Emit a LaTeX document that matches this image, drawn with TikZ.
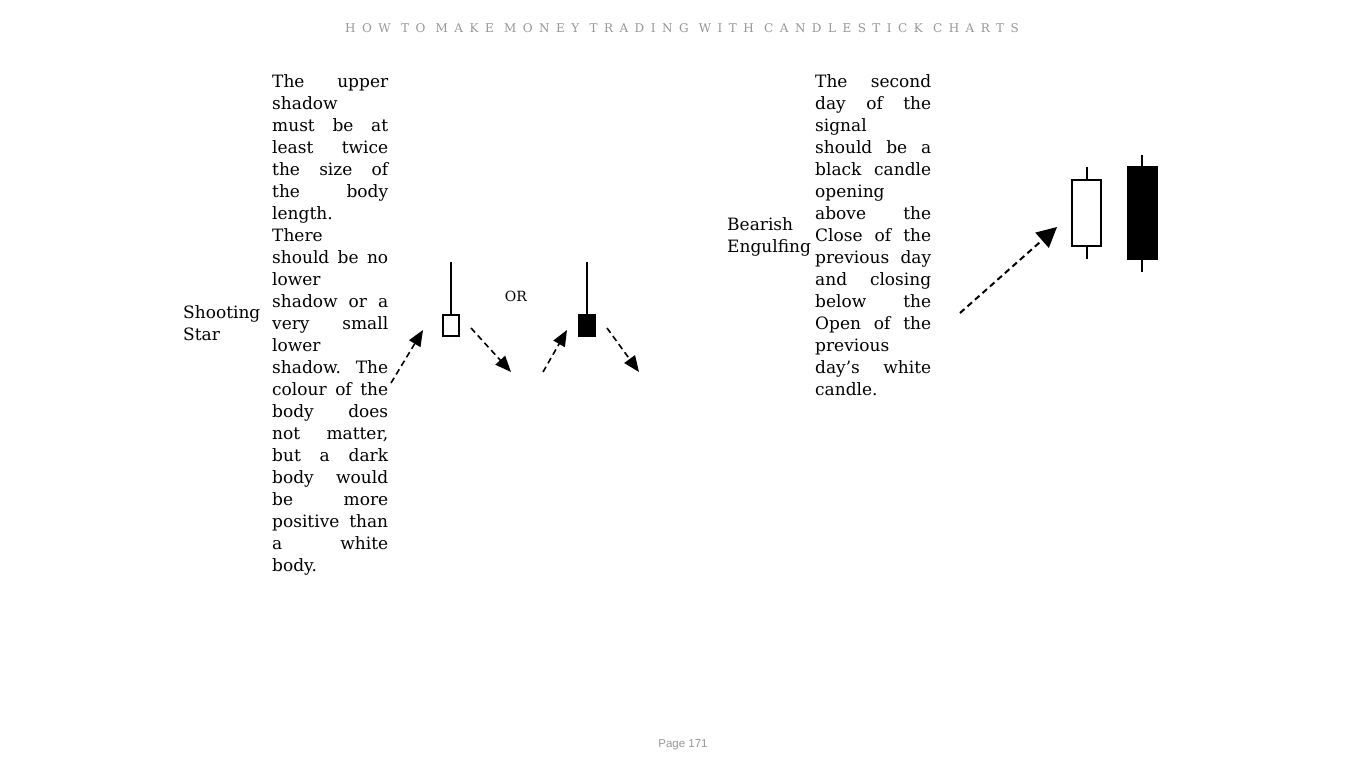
\documentclass[tikz,border=0pt]{standalone}
\usepackage{fontspec}
\setmainfont{DejaVu Serif}
\newfontfamily\headfont[LetterSpace=54]{DejaVu Serif}
\newfontfamily\pagefont{Liberation Sans}
\usetikzlibrary{arrows.meta}
\definecolor{headgray}{RGB}{150,150,150}
\newcommand{\jl}[1]{\makebox[116pt][s]{#1}}

\begin{document}
\begin{tikzpicture}[x=1pt, y=-1pt,
  txt/.style = {anchor=north west, inner sep=0pt, align=left, font=\fontsize{17}{22}\selectfont},
  wick/.style = {line width=1.3pt},
  wbody/.style = {draw, fill=white, line width=1.3pt, inner sep=0pt},
  bbody/.style = {draw, fill=black, line width=1.3pt, inner sep=0pt},
  dsh/.style = {line width=1.6pt, dash pattern=on 6pt off 4pt, -{Triangle[length=16pt, width=13pt]}},
  bigdsh/.style = {dsh, line width=2pt, -{Triangle[length=20pt, width=20pt]}}]
  \useasboundingbox (0,0) rectangle (1366,768);
  \node[font=\headfont\fontsize{12}{14}\selectfont, text=headgray] (title) at (682,28) {HOW TO MAKE MONEY TRADING WITH CANDLESTICK CHARTS};
  \node[font=\pagefont\fontsize{11.5}{13}\selectfont, text=headgray] (page) at (683,745) {Page 171};

  \node[txt] (ssname) at (183,305) {Shooting\\Star};
  \node[txt] (sstext) at (272,74) {\jl{The upper}\\shadow\\\jl{must be at}\\\jl{least twice}\\\jl{the size of}\\\jl{the body}\\length.\\There\\\jl{should be no}\\lower\\\jl{shadow or a}\\\jl{very small}\\lower\\\jl{shadow. The}\\\jl{colour of the}\\\jl{body does}\\\jl{not matter,}\\\jl{but a dark}\\\jl{body would}\\\jl{be more}\\\jl{positive than}\\\jl{a white}\\body.};

  \node[txt] (bename) at (727,217) {Bearish\\Engulfing};
  \node[txt] (betext) at (815,74) {\jl{The second}\\\jl{day of the}\\signal\\\jl{should be a}\\\jl{black candle}\\opening\\\jl{above the}\\\jl{Close of the}\\\jl{previous day}\\\jl{and closing}\\\jl{below the}\\\jl{Open of the}\\previous\\\jl{day’s white}\\candle.};

  \node[wbody, minimum width=16pt, minimum height=21pt] (ss1) at (451,325.5) {};
  \node[bbody, minimum width=16pt, minimum height=21pt] (ss2) at (587,325.5) {};
  \coordinate (ss1top) at (451,262);
  \coordinate (ss2top) at (587,262);
  \draw[wick] (ss1.north) -- (ss1top);
  \draw[wick] (ss2.north) -- (ss2top);
  \node[font=\fontsize{14}{16}\selectfont] (or) at (516,296) {OR};

  \coordinate (a1s) at (391,383); \coordinate (a1e) at (423,330);
  \coordinate (a2s) at (471,328); \coordinate (a2e) at (511,372);
  \coordinate (a3s) at (543,372); \coordinate (a3e) at (567,330);
  \coordinate (a4s) at (607,328); \coordinate (a4e) at (639,372);
  \draw[dsh] (a1s) -- (a1e);
  \draw[dsh] (a2s) -- (a2e);
  \draw[dsh] (a3s) -- (a3e);
  \draw[dsh] (a4s) -- (a4e);

  \coordinate (w1top) at (1087,167); \coordinate (w1bot) at (1087,259);
  \coordinate (w2top) at (1142,155); \coordinate (w2bot) at (1142,272);
  \draw[line width=2pt] (w1top) -- (w1bot);
  \draw[line width=2pt] (w2top) -- (w2bot);
  \node[wbody, line width=2pt, minimum width=29pt, minimum height=66pt] (be1) at (1086.5,213) {};
  \node[bbody, line width=2pt, minimum width=29pt, minimum height=92pt] (be2) at (1142.5,213) {};
  \coordinate (a5s) at (960,313); \coordinate (a5e) at (1057,227);
  \draw[bigdsh] (a5s) -- (a5e);
\end{tikzpicture}
\end{document}
